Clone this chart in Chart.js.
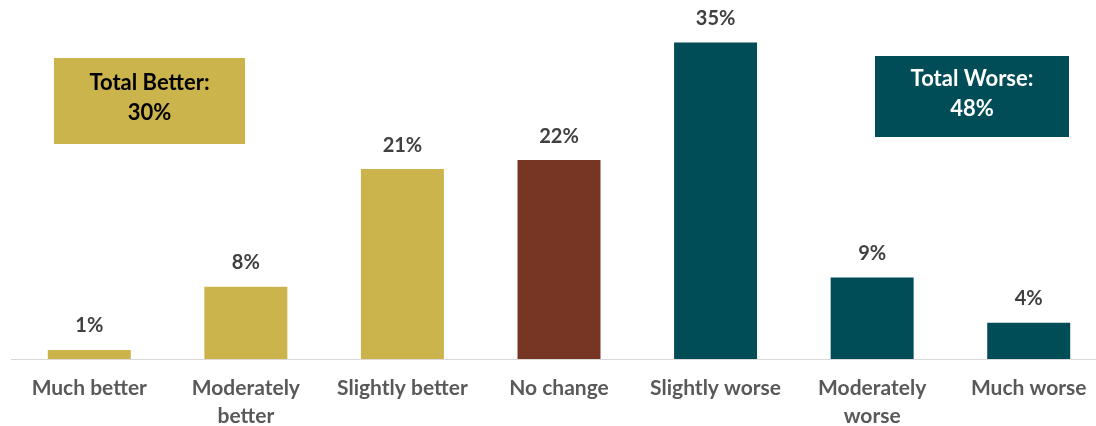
<!DOCTYPE html>
<html>
<head>
<meta charset="utf-8">
<script src="https://cdn.jsdelivr.net/npm/chart.js@4/dist/chart.umd.min.js"></script>
<style>
  html, body { margin: 0; padding: 0; background: #fff; overflow: hidden; }
  canvas { display: block; }
</style>
</head>
<body>
<canvas id="myChart" width="1118" height="426"></canvas>
<script>
const categories = ["Much better", ["Moderately", "better"], "Slightly better", "No change", "Slightly worse", ["Moderately", "worse"], "Much worse"];
const values = [1, 8, 21, 22, 35, 9, 4];
const barColors = ["#CCB44C", "#CCB44C", "#CCB44C", "#773524", "#004D58", "#004D58", "#004D58"];
const boxTexts = [["Total Better:", "30%"], ["Total Worse:", "48%"]];

const fontFam = "Lato, 'Open Sans', sans-serif";

// value labels over the bars
const barLabels = {
    id: "barLabels",
    afterDatasetsDraw(chart) {
        let ctx = chart.ctx;
        let meta = chart.getDatasetMeta(0);
        ctx.save();
        ctx.font = "bold 20px " + fontFam;
        ctx.fillStyle = "#404040";
        ctx.textAlign = "center";
        ctx.textBaseline = "middle";
        meta.data.forEach((bar, i) => {
            ctx.fillText(values[i] + "%", bar.x, bar.y - 24);
        });
        ctx.restore();
    }
};

// the two "Total" boxes
const totalBoxes = {
    id: "totalBoxes",
    afterDraw(chart) {
        let ctx = chart.ctx;
        let boxes = [
            { x: 54, y: 58, w: 191, h: 86, bg: "#CCB44C", fg: "#000000", lines: boxTexts[0] },
            { x: 875, y: 56, w: 194, h: 81, bg: "#004D58", fg: "#FFFFFF", lines: boxTexts[1] }
        ];
        ctx.save();
        boxes.forEach(b => {
            ctx.fillStyle = b.bg;
            ctx.fillRect(b.x, b.y, b.w, b.h);
            ctx.fillStyle = b.fg;
            ctx.font = "bold 22px " + fontFam;
            ctx.textAlign = "center";
            ctx.textBaseline = "middle";
            let cx = b.x + b.w / 2;
            let cy = b.y + b.h / 2 - 3;
            ctx.fillText(b.lines[0], cx, cy - 15);
            ctx.fillText(b.lines[1], cx, cy + 15);
        });
        ctx.restore();
    }
};

new Chart(document.getElementById("myChart"), {
    type: "bar",
    data: {
        labels: categories,
        datasets: [{
            data: values,
            backgroundColor: barColors,
            borderWidth: 0,
            barPercentage: 0.53,
            categoryPercentage: 1
        }]
    },
    options: {
        responsive: false,
        animation: false,
        events: [],
        layout: { padding: { left: 11, right: 11, top: 0, bottom: 0 } },
        plugins: { legend: { display: false }, tooltip: { enabled: false } },
        scales: {
            y: {
                display: false,
                min: 0,
                max: 39.7
            },
            x: {
                grid: { display: false, drawTicks: false },
                border: { display: true, color: "#D9D9D9", width: 1 },
                ticks: {
                    color: "#595959",
                    font: { family: fontFam, size: 21, weight: "bold", lineHeight: 1.35 },
                    padding: 15,
                    maxRotation: 0,
                    autoSkip: false
                },
                afterFit(scale) { scale.height = 67; }
            }
        }
    },
    plugins: [barLabels, totalBoxes]
});
</script>
</body>
</html>
